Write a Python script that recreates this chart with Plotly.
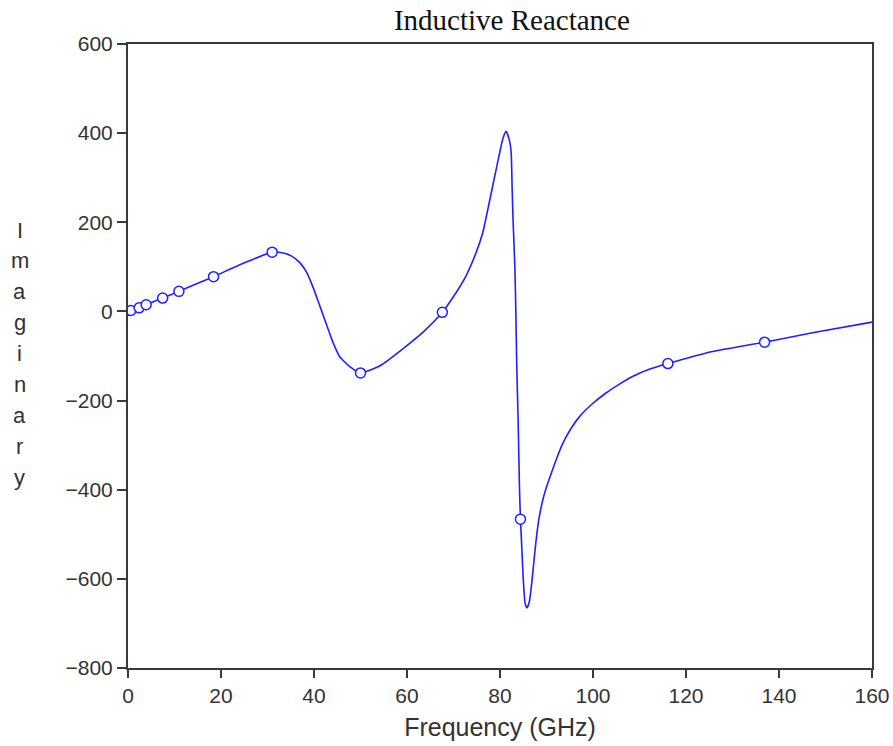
import plotly.graph_objects as go

# Imaginary part of impedance vs frequency
freq = [0.0, 0.6, 2.4, 3.9, 7.45, 10.95, 14.5, 18.4, 22.0, 26.0, 31.0, 33.4, 35.2,
        36.9, 38.4, 39.8, 41.2, 42.7, 44.1, 45.5, 47.7, 50.0, 53.4, 54.8, 59.1,
        63.4, 67.6, 70.6, 72.7, 74.9, 76.3, 77.7, 79.2, 80.6, 81.3, 82.0, 82.4,
        82.6, 82.8, 83.2, 83.4, 83.6, 83.9, 84.2, 84.4, 84.7, 85.0, 85.4, 85.8,
        86.3, 86.8, 87.3, 87.8, 88.4, 89.2, 90.0, 91.3, 92.4, 93.5, 95.3, 97.1,
        100.0, 102.8, 105.7, 108.5, 112.1, 116.1, 125.7, 136.9, 147.2, 160.0]
imag = [-10, 2, 8, 15, 30, 45, 61, 78, 95, 113, 133, 131, 124,
        110, 88, 54, 14, -30, -70, -101, -124, -138, -126, -118, -84,
        -47, -2, 43, 80, 133, 177, 245, 320, 387, 404, 385, 357,
        280, 207, 100, 2, -122, -246, -400, -466, -533, -600, -655, -665,
        -652, -612, -560, -510, -464, -423, -394, -355, -324, -296, -262, -236,
        -206, -183, -163, -146, -130, -117, -90, -69, -48, -24]

# Sampled points shown as open circles
mark_freq = [0.6, 2.4, 3.9, 7.45, 10.95, 18.4, 31.0, 50.0, 67.6, 84.4, 116.1, 136.9]
mark_imag = [2, 8, 15, 30, 45, 78, 133, -138, -2, -466, -117, -69]

x_ticks = [0, 20, 40, 60, 80, 100, 120, 140, 160]
y_ticks = [-800, -600, -400, -200, 0, 200, 400, 600]

blue = "#2020ff"
axis_color = "#3a3a3a"
label_font = dict(family="Liberation Sans, Arial, sans-serif", size=21, color="#333333")

fig = go.Figure()
fig.add_trace(go.Scatter(x=freq, y=imag, mode="lines",
                         line=dict(color=blue, width=1.6, shape="spline", smoothing=0.5),
                         hoverinfo="skip"))
fig.add_trace(go.Scatter(x=mark_freq, y=mark_imag, mode="markers",
                         marker=dict(symbol="circle", size=10, color="white",
                                     line=dict(color=blue, width=1.5))))

fig.update_layout(
    width=893, height=746,
    margin=dict(l=128, r=21, t=44, b=78),
    paper_bgcolor="white", plot_bgcolor="white",
    showlegend=False,
    title=dict(text="Inductive Reactance", x=0.516, xref="paper", xanchor="center",
               y=0.973, yref="container", yanchor="middle",
               font=dict(family="Liberation Serif, Times New Roman, serif", size=29, color="#111111")),
    xaxis=dict(range=[0, 160], tickvals=x_ticks, showgrid=False, zeroline=False,
               automargin=False,
               showline=True, linecolor=axis_color, linewidth=2, mirror=True,
               ticks="outside", ticklen=8, tickwidth=1.5, tickcolor=axis_color,
               tickfont=label_font,
               title=dict(text="Frequency (GHz)", standoff=12,
                          font=dict(family="Liberation Sans, Arial, sans-serif", size=25, color="#333333"))),
    yaxis=dict(range=[-800, 600], tickvals=y_ticks, showgrid=False, zeroline=False,
               automargin=False,
               showline=True, linecolor=axis_color, linewidth=2, mirror=True,
               ticks="outside", ticklen=9, tickwidth=1.5, tickcolor=axis_color,
               tickfont=label_font),
)

# Vertical axis label, one letter per line
letters = list("Imaginary")
top_px, pitch_px, plot_h = 230.0, 30.9, 624.0
for k, ch in enumerate(letters):
    fig.add_annotation(text=ch, xref="paper", yref="paper",
                       x=(20 - 128) / 744.0, y=(668 - (top_px + pitch_px * k)) / plot_h,
                       xanchor="center", yanchor="middle", showarrow=False,
                       font=dict(family="Liberation Sans, Arial, sans-serif", size=22, color="#333333"))

fig.write_html("out.html")
